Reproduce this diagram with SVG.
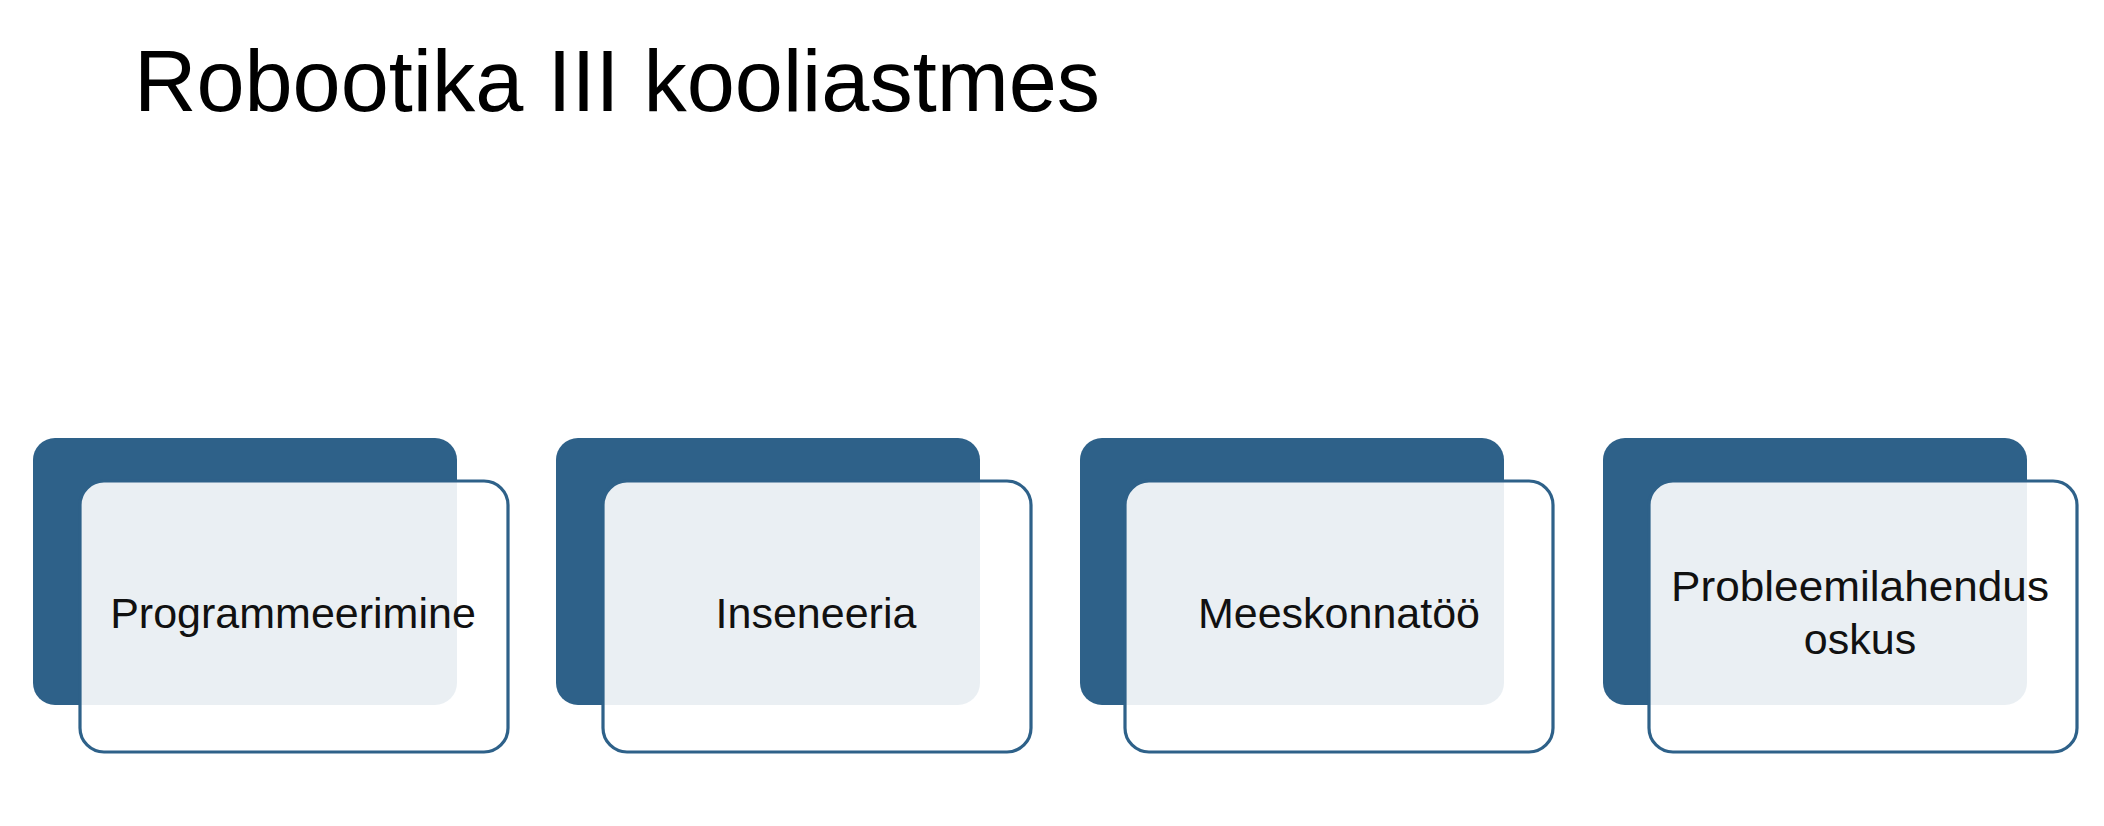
<svg xmlns="http://www.w3.org/2000/svg" width="2104" height="826" viewBox="0 0 2104 826">
<style>
.back{fill:#2E6189}
.front{fill:#ffffff;fill-opacity:0.9;stroke:#2E6189;stroke-width:3.2}
.lbl{font-family:"Liberation Sans",Arial,sans-serif;font-size:43px;fill:#111111;text-anchor:middle}
.title{font-family:"Liberation Sans",Arial,sans-serif;font-size:87px;fill:#000000}
</style>
<rect width="2104" height="826" fill="#ffffff"/>
<text class="title" x="134" y="111" textLength="966" lengthAdjust="spacingAndGlyphs">Robootika III kooliastmes</text>
<g id="connectors"/>
<g id="node1">
<rect class="back" x="33" y="438" width="424" height="267" rx="22"/>
<rect class="front" x="80" y="481" width="428" height="271" rx="24"/>
<text class="lbl" x="293" y="628">Programmeerimine</text>
</g>
<g id="node2">
<rect class="back" x="556" y="438" width="424" height="267" rx="22"/>
<rect class="front" x="603" y="481" width="428" height="271" rx="24"/>
<text class="lbl" x="816" y="628">Inseneeria</text>
</g>
<g id="node3">
<rect class="back" x="1080" y="438" width="424" height="267" rx="22"/>
<rect class="front" x="1125" y="481" width="428" height="271" rx="24"/>
<text class="lbl" x="1339" y="628">Meeskonnatöö</text>
</g>
<g id="node4">
<rect class="back" x="1603" y="438" width="424" height="267" rx="22"/>
<rect class="front" x="1649" y="481" width="428" height="271" rx="24"/>
<text class="lbl" x="1860" y="601" textLength="378" lengthAdjust="spacingAndGlyphs">Probleemilahendus</text>
<text class="lbl" x="1860" y="654">oskus</text>
</g>
</svg>
